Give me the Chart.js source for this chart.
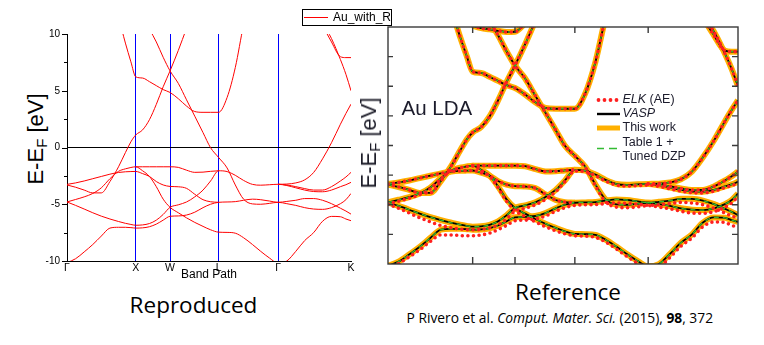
<!DOCTYPE html>
<html>
<head>
<meta charset="utf-8">
<script src="https://cdn.jsdelivr.net/npm/chart.js@4.4.1/dist/chart.umd.min.js"></script>
<style>
  html, body { margin: 0; padding: 0; background: #fff; }
  #page { position: relative; width: 764px; height: 345px; overflow: hidden; font-family: "Liberation Sans", Arial, sans-serif; }
  canvas { position: absolute; top: 0; }
  #left { left: 0; z-index: 2; }
  #right { left: 380px; z-index: 1; filter: blur(0.4px); }
  .ytitle { position: absolute; font-size: 22px; line-height: 1; white-space: nowrap; transform: translate(-50%, -50%) rotate(-90deg); }
  .ytitle sub { font-size: 15px; vertical-align: -4px; line-height: 1; }
  .cap { position: absolute; font-family: "Open Sans", sans-serif; font-size: 22.5px; line-height: 1; white-space: nowrap; transform: translateX(-50%); color: #000; }
  .cite { position: absolute; font-family: "Open Sans", sans-serif; font-size: 13.8px; line-height: 1; white-space: nowrap; color: #000; }
</style>
</head>
<body>
<div id="page">
  <canvas id="left" width="400" height="300"></canvas>
  <canvas id="right" width="384" height="300"></canvas>
  <div class="ytitle" style="left:37px; top:139px; color:#000">E-E<sub>F</sub> [eV]</div>
  <div class="ytitle" style="left:370px; top:143px; color:#1e1e2a; filter: blur(0.3px)">E-E<sub>F</sub> [eV]</div>
  <div class="cap" style="left:193.5px; top:294px">Reproduced</div>
  <div class="cap" style="left:568px; top:280.5px">Reference</div>
  <div class="cite" style="left:406.5px; top:311px">P Rivero et al. <i>Comput. Mater. Sci.</i> (2015), <b>98</b>, 372</div>
</div>
<script>
// k-path Γ-X-W-L-Γ-K (units of 2π/a)
const kSym = [0, 1.0, 1.5, 2.207, 3.073, 4.134];
const symLabels = ['Γ', 'X', 'W', 'L', 'Γ', 'K'];
const kGrid = [0, 0.125, 0.25, 0.375, 0.5, 0.625, 0.75, 0.85, 0.93, 1.0,
  1.1, 1.2, 1.3, 1.4, 1.5,
  1.62, 1.74, 1.86, 1.98, 2.09, 2.207,
  2.33, 2.45, 2.57, 2.70, 2.82, 2.95, 3.073,
  3.2, 3.33, 3.46, 3.59, 3.72, 3.85, 3.98, 4.06, 4.134];
const _ = null;

// band energies E-EF (eV) on kGrid
const band1 = [-10.15, -9.8, -9.2, -8.55, -7.8, -7.1, -7.03, -7.03, -7.06, -7.1,
  -7.08, -6.98, -6.75, -6.4, -6.06,
  -6.03, -5.95, -5.7, -5.3, -5.0, -4.83,
  -4.8, -4.77, -4.65, -4.55, -4.6, -4.72, -4.83,
  -4.75, -4.65, -4.5, -4.5, -4.65, -4.95, -5.35, -5.6, -5.87];
const band2 = [-4.8, -5.1, -5.42, -5.75, -6.05, -6.3, -6.52, -6.68, -6.78, -6.85,
  -6.82, -6.7, -6.4, -5.9, -5.27,
  -5.05, -4.8, -4.35, -3.75, -2.95, -2.05,
  -2.12, -2.45, -2.9, -3.25, -3.32, -3.28, -3.24,
  -3.35, -3.55, -3.75, -3.88, -3.9, -3.75, -3.45, -3.28, -3.07];
const band3 = [-4.8, -4.58, -4.35, -4.05, -3.55, -2.75, -2.1, -1.88, -1.76, -1.7,
  -2.05, -2.55, -3.45, -4.55, -5.27,
  -5.75, -6.2, -6.6, -6.95, -7.25, -7.46,
  -7.48, -7.55, -7.95, -8.55, -9.15, -9.75, -10.2,
  -10.0, -9.15, -8.2, -7.5, -6.5, -6.07, -6.1, -6.3, -6.45];
const band4 = [-3.25, -3.12, -2.95, -2.75, -2.55, -2.35, -2.2, -2.14, -2.12, -2.11,
  -2.3, -2.55, -3.0, -3.3, -3.43,
  -3.46, -3.6, -4.12, -4.6, -4.78, -4.83,
  _, _, _, _, _, _, _,
  _, _, _, _, _, _, _, _, _];
const band5 = [_, _, _, _, _, _, _, _, _, -1.7,
  -1.7, -1.7, -1.7, -1.7, -1.7,
  -1.75, -2.0, -2.19, -2.17, -2.1, -2.05,
  _, _, _, _, _, _, _,
  _, _, _, _, _, _, _, _, _];
const band6 = [-3.3, -3.5, -3.75, -4.0, -4.0, -3.0, -1.7, -0.45, 0.5, 1.1,
  1.55, 2.45, 3.8, 5.35, 6.75,
  8.55, 10.5, 12.4, 14, 15.5, 16.5,
  17, 17.5, 18, 18.5, 19, 19.5, 19.5,
  19, 18, 16, 13.5, 10.9, 9.3, 8.0, 7.92, 7.92];
const band7 = [16.5, 16.3, 15.8, 15.0, 14.0, 13.0, 11.4, 9.2, 7.55, 6.23,
  6.12, 5.8, 5.45, 5.1, 4.85,
  4.3, 3.65, 3.17, 3.1, 3.1, 3.1,
  4.4, 7.05, 10.8, 14, 16.5, 18, 18.5,
  18.2, 17, 15.5, 13.5, 11.1, 9.6, 7.75, 6.45, 5.0];
const band8 = [20, 20, 19.5, 19, 18, 17, 16, 15, 14.2, 13.5,
  11.7, 10.45, 9.3, 7.95, 6.75,
  5.65, 4.2, 2.76, 1.31, -0.02, -0.88,
  -1.8, -3.3, -4.55, -4.97, -5.0, -4.92, -4.83,
  -4.95, -5.1, -5.3, -5.42, -5.45, -5.3, -4.95, -4.6, -4.05];
const band9 = [_, _, _, _, _, _, _, _, _, _,
  _, _, _, _, _,
  _, _, _, _, _, _,
  _, _, _, _, _, _, -3.24,
  -3.3, -3.45, -3.62, -3.75, -3.75, -3.45, -2.95, -2.6, -2.19];
const band10 = [_, _, _, _, _, _, _, _, _, _,
  _, _, _, _, _,
  _, _, _, _, _, _,
  _, _, _, _, _, _, -3.24,
  -3.22, -3.12, -2.85, -2.2, -1.0, 0.42, 2.05, 3.0, 3.82];

// reference figure: extra band near the top and all-electron (ELK) values
const refTopBand = [_, _, _, _, _, _, _, _, _, 10.1,
  9.9, 9.8, 9.68, 9.58, 9.6,
  10.3, _, _, _, _, _,
  _, _, _, _, _, _, _,
  _, _, _, _, _, _, _, _, _];
const elk1 = [-10.3, -9.95, -9.4, -8.8, -8.1, -7.55, -7.55, -7.6, -7.62, -7.62,
  -7.55, -7.4, -7.1, -6.75, -6.35,
  -6.3, -6.2, -5.95, -5.55, -5.25, -5.05,
  -5.0, -4.98, -4.9, -4.85, -4.88, -4.95, -5.05,
  -5.0, -4.9, -4.8, -4.85, -5.0, -5.3, -5.7, -5.95, -6.1];
const elk2 = [-4.95, -5.3, -5.7, -6.1, -6.45, -6.75, -6.95, -7.05, -7.1, -7.12,
  -7.08, -6.95, -6.7, -6.2, -5.55,
  -5.3, -5.0, -4.55, -3.9, -3.05, -2.15,
  -2.2, -2.55, -3.0, -3.35, -3.42, -3.38, -3.34,
  -3.45, -3.65, -3.85, -3.98, -4.0, -3.85, -3.55, -3.38, -3.17];
const elk3 = [-4.95, -4.7, -4.45, -4.15, -3.65, -2.8, -2.12, -1.9, -1.78, -1.72,
  -2.1, -2.6, -3.55, -4.7, -5.5,
  -6.0, -6.45, -6.85, -7.2, -7.45, -7.62,
  -7.65, -7.75, -8.15, -8.75, -9.35, -9.95, -10.4,
  -10.25, -9.45, -8.5, -7.8, -6.85, -6.45, -6.5, -6.75, -6.9];
const elk8 = [20, 20, 19.5, 19, 18, 17, 16, 15, 14.2, 13.5,
  11.7, 10.45, 9.3, 7.95, 6.75,
  5.65, 4.2, 2.76, 1.31, -0.02, -0.88,
  -1.85, -3.4, -4.75, -5.2, -5.25, -5.18, -5.08,
  -5.2, -5.35, -5.55, -5.7, -5.72, -5.58, -5.2, -4.85, -4.3];
const refYTicks = [-7.5, -5, -2.5, 0, 2.5, 5, 7.5];

const bands = [band1, band2, band3, band4, band5, band6, band7, band8, band9, band10];
const toPoints = arr => kGrid.map((k, i) => ({ x: k, y: arr[i] }));

Chart.defaults.font.family = '"Liberation Sans", Arial, sans-serif';
Chart.defaults.color = '#000';

const yTickMarks = {
  id: 'yTickMarks',
  afterDraw(chart) {
    const { ctx, chartArea, scales: { y } } = chart;
    ctx.save();
    ctx.strokeStyle = '#000';
    ctx.lineWidth = 1;
    ctx.beginPath();
    y.ticks.forEach(t => {
      const py = Math.round(y.getPixelForValue(t.value)) + 0.5;
      const len = t.value % 5 === 0 ? 5 : 3;
      ctx.moveTo(chartArea.left - len, py);
      ctx.lineTo(chartArea.left, py);
    });
    ctx.stroke();
    ctx.restore();
  }
};

const boxLegend = {
  id: 'boxLegend',
  afterDraw(chart) {
    const ctx = chart.ctx;
    ctx.save();
    ctx.fillStyle = '#fff';
    ctx.fillRect(302.5, 9.5, 89, 16);
    ctx.strokeStyle = '#000';
    ctx.lineWidth = 1;
    ctx.strokeRect(302.5, 9.5, 89, 16);
    ctx.strokeStyle = '#ff0000';
    ctx.beginPath();
    ctx.moveTo(304, 17.5);
    ctx.lineTo(328, 17.5);
    ctx.stroke();
    ctx.fillStyle = '#000';
    ctx.font = '12px "Liberation Sans", Arial, sans-serif';
    ctx.textBaseline = 'middle';
    ctx.fillText(chart.data.datasets[0].label, 333, 18);
    ctx.restore();
  }
};

new Chart(document.getElementById('left'), {
  type: 'line',
  data: {
    datasets: bands.map(b => ({
      label: 'Au_with_R',
      data: toPoints(b),
      borderColor: '#ff0000',
      borderWidth: 1,
      pointRadius: 0,
      cubicInterpolationMode: 'monotone',
      spanGaps: false,
      clip: 0
    }))
  },
  options: {
    responsive: false,
    animation: false,
    devicePixelRatio: 1,
    layout: { padding: { left: 37, top: 34, right: 49, bottom: 18 } },
    plugins: { legend: { display: false }, tooltip: { enabled: false } },
    scales: {
      x: {
        type: 'linear',
        min: kSym[0],
        max: kSym[kSym.length - 1],
        afterBuildTicks: s => { s.ticks = kSym.map(v => ({ value: v })); },
        afterFit: s => { s.height = 21; },
        ticks: { autoSkip: false, maxRotation: 0, padding: 1, font: { size: 10.5 },
          callback: (v, i) => symLabels[i] },
        grid: {
          drawTicks: false,
          lineWidth: 1,
          color: c => (c.tick && c.tick.value > 0 && c.tick.value < kSym[kSym.length - 1]) ? '#0000ff' : 'rgba(0,0,0,0)'
        },
        border: { color: '#000', width: 1 },
        title: { display: true, text: 'Band Path', font: { size: 12 }, padding: 0 }
      },
      y: {
        min: -10,
        max: 10,
        afterFit: s => { s.width = 30; },
        ticks: { stepSize: 2.5, padding: 7, font: { size: 10 },
          callback: v => (v % 5 === 0 ? String(v) : '') },
        grid: {
          drawTicks: false,
          lineWidth: 1,
          color: c => (c.tick && c.tick.value === 0) ? '#000' : 'rgba(0,0,0,0)'
        },
        border: { color: '#000', width: 1 }
      }
    }
  },
  plugins: [yTickMarks, boxLegend]
});

// reference panel
const refFrame = {
  id: 'refFrame',
  afterDraw(chart) {
    const { ctx, chartArea: a, scales: { x, y } } = chart;
    ctx.save();
    ctx.strokeStyle = '#3a3a3a';
    ctx.lineWidth = 1.4;
    ctx.strokeRect(a.left, a.top, a.right - a.left, a.bottom - a.top);
    ctx.beginPath();
    refYTicks.forEach(v => {
      const py = y.getPixelForValue(v);
      ctx.moveTo(a.left, py); ctx.lineTo(a.left + 5, py);
      ctx.moveTo(a.right, py); ctx.lineTo(a.right - 6, py);
    });
    kSym.slice(1, -1).forEach(v => {
      const px = x.getPixelForValue(v);
      ctx.moveTo(px, a.top); ctx.lineTo(px, a.top + 6);
      ctx.moveTo(px, a.bottom); ctx.lineTo(px, a.bottom - 7);
    });
    ctx.stroke();

    const ink = '#1c1c2c';
    ctx.fillStyle = ink;
    ctx.font = '20.5px "Liberation Sans", Arial, sans-serif';
    ctx.textBaseline = 'alphabetic';
    ctx.fillText('Au LDA', 21.5, 115);

    // legend
    const sx = 217, ex = 240, tx = 242.5;
    ctx.fillStyle = '#ff2020';
    [218.5, 224.5, 230.5, 236.5].forEach(px => {
      ctx.beginPath(); ctx.arc(px, 100, 1.9, 0, Math.PI * 2); ctx.fill();
    });
    ctx.lineCap = 'butt';
    ctx.strokeStyle = '#000'; ctx.lineWidth = 2.4;
    ctx.beginPath(); ctx.moveTo(sx, 114); ctx.lineTo(ex, 114); ctx.stroke();
    ctx.strokeStyle = '#ffb000'; ctx.lineWidth = 5;
    ctx.beginPath(); ctx.moveTo(sx, 128); ctx.lineTo(ex, 128); ctx.stroke();
    ctx.strokeStyle = '#33bb33'; ctx.lineWidth = 1.4;
    ctx.beginPath(); ctx.moveTo(sx, 148.5); ctx.lineTo(sx + 7, 148.5);
    ctx.moveTo(sx + 12, 148.5); ctx.lineTo(sx + 20, 148.5); ctx.stroke();

    ctx.fillStyle = ink;
    ctx.textBaseline = 'middle';
    const italic = 'italic 12.5px "Liberation Sans", Arial, sans-serif';
    const plain = '12.5px "Liberation Sans", Arial, sans-serif';
    ctx.font = italic;
    ctx.fillText('ELK', tx, 100);
    const w = ctx.measureText('ELK').width;
    ctx.font = plain;
    ctx.fillText(' (AE)', tx + w, 100);
    ctx.font = italic;
    ctx.fillText('VASP', tx, 113.5);
    ctx.font = plain;
    ctx.fillText('This work', tx, 127.5);
    ctx.fillText('Table 1 +', tx, 142.5);
    ctx.fillText('Tuned DZP', tx, 156.5);
    ctx.restore();
  }
};

const refBands = [band1, band2, band3, band4, band5, band6, band7, band8, band9, band10, refTopBand];
const elkBands = [elk1, elk2, elk3, band4, band5, band6, band7, elk8, band9, band10, refTopBand];
const series = (arr, style, order) => arr.map(b => Object.assign({
  data: toPoints(b),
  pointRadius: 0,
  cubicInterpolationMode: 'monotone',
  spanGaps: false,
  clip: 0,
  order
}, style));

new Chart(document.getElementById('right'), {
  type: 'line',
  data: {
    datasets: [
      ...series(elkBands, { label: 'ELK (AE)', borderColor: '#ff2020', borderWidth: 3.6, borderDash: [0, 5.6], borderCapStyle: 'round' }, 0),
      ...series(refBands, { label: 'Table 1 + Tuned DZP', borderColor: '#33bb33', borderWidth: 1.3, borderDash: [5, 4] }, 1),
      ...series(refBands, { label: 'VASP', borderColor: '#000', borderWidth: 1.8 }, 2),
      ...series(refBands, { label: 'This work', borderColor: '#ffb000', borderWidth: 6 }, 3)
    ]
  },
  options: {
    responsive: false,
    animation: false,
    devicePixelRatio: 1,
    layout: { padding: { left: 8, top: 27, right: 26, bottom: 36 } },
    plugins: { legend: { display: false }, tooltip: { enabled: false } },
    scales: {
      x: { type: 'linear', display: false, min: kSym[0], max: kSym[kSym.length - 1] },
      y: { display: false, min: -10, max: 10 }
    }
  },
  plugins: [refFrame]
});
</script>
</body>
</html>
